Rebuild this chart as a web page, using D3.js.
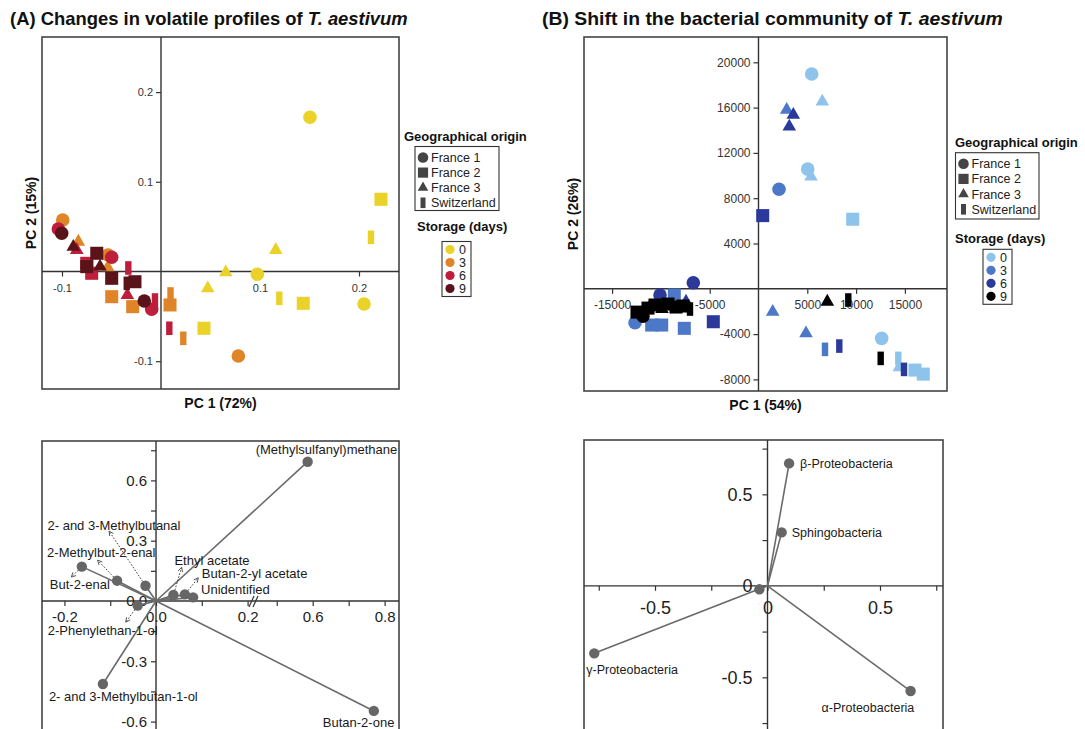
<!DOCTYPE html>
<html><head><meta charset="utf-8">
<script src="https://cdn.jsdelivr.net/npm/d3@7"></script>
<style>
body{margin:0;background:#fff;}
svg{display:block;font-family:"Liberation Sans",Arial,sans-serif;}
</style></head><body><svg id="c" width="1085" height="729"></svg>
<script>
// ---------------- DATA ----------------
const origins = ["France 1","France 2","France 3","Switzerland"];
const storageDays = ["0","3","6","9"];
const volatileColors = ["#EAD228","#E08428","#BE1E3C","#5A1419"];
const bacteriaColors = ["#8EC4EB","#4D78C8","#2B399B","#000000"];

// Panel A scores: [origin, PC1, PC2]
const volatileDay0 = [
 ["France 1",0.1505,0.1719],["France 1",0.0973,-0.0031],["France 1",0.2051,-0.0362],
 ["France 2",0.2222,0.0805],["France 2",0.1437,-0.0355],["France 2",0.0434,-0.0633],
 ["France 3",0.1159,0.0240],["France 3",0.0654,-0.0009],["France 3",0.0472,-0.0187],
 ["Switzerland",0.2121,0.0381],["Switzerland",0.1195,-0.0299]];
const volatileDay3 = [
 ["France 1",-0.0993,0.0574],["France 1",-0.0535,0.0184],["France 1",0.0781,-0.0942],
 ["France 2",-0.0498,-0.0281],["France 2",-0.0286,-0.0392],["France 2",0.0091,-0.0373],
 ["France 3",-0.0835,0.0332],["France 3",-0.0538,0.0047],
 ["Switzerland",0.0096,-0.0251],["Switzerland",0.0225,-0.0745]];
const volatileDay6 = [
 ["France 1",-0.1037,0.0474],["France 1",-0.0498,0.0158],["France 1",-0.0094,-0.0421],
 ["France 2",-0.0700,-0.0020],["France 2",-0.0750,0.0091],
 ["France 3",-0.0851,0.0240],["France 3",-0.0340,-0.0262],
 ["Switzerland",-0.0330,0.0039],["Switzerland",-0.0061,-0.0318],["Switzerland",0.0084,-0.0633]];
const volatileDay9 = [
 ["France 1",-0.1003,0.0426],["France 1",-0.0169,-0.0329],
 ["France 2",-0.0649,0.0203],["France 2",-0.0750,0.0054],["France 2",-0.0498,-0.0076],["France 2",-0.0263,-0.0114],
 ["France 3",-0.0886,0.0276],["France 3",-0.0616,0.0054],
 ["Switzerland",-0.0346,-0.0132]];
const volatileTicksX = [-0.1,0.1,0.2];
const volatileTicksY = [-0.1,0.1,0.2];

// Panel B scores: [origin, PC1, PC2]
const bacteriaDay0 = [
 ["France 1",5451,18966],["France 3",6537,16541],["France 1",5041,10564],["France 3",5379,9910],
 ["France 2",9652,6144],["France 1",12623,-4376],["Switzerland",14324,-6144],["France 3",14426,-6939],
 ["France 2",16035,-7178],["France 2",16885,-7532]];
const bacteriaDay3 = [
 ["France 3",2889,15806],["France 1",2100,8796],["France 3",1455,-2024],["France 3",4867,-3934],
 ["Switzerland",6814,-5348],["France 2",-8627,-548],["France 2",-7603,-3491],["France 2",-9918,-3200],
 ["France 2",-10943,-3200],["France 1",-12654,-2997]];
const bacteriaDay6 = [
 ["France 3",3566,15364],["France 3",3156,14330],["France 2",430,6462],["Switzerland",8279,-5056],
 ["Switzerland",14908,-7116],["France 1",-6680,539],["France 1",-10092,-548],["France 3",-7428,-1140],
 ["France 2",-4631,-2908]];
const bacteriaDay9 = [
 ["France 3",7049,-1140],["Switzerland",9201,-990],["Switzerland",12520,-6144],
 ["France 2",-12449,-2058],["France 1",-11834,-2412],["France 2",-11322,-1705],["France 2",-10605,-1432],
 ["France 3",-9887,-1786],["France 2",-9273,-1344],["France 2",-8453,-1609],["France 2",-7736,-1521],
 ["Switzerland",-7018,-1786]];
const bacteriaTicksX = [-15000,-10000,-5000,5000,10000,15000];
const bacteriaTicksY = [-8000,-4000,4000,8000,12000,16000,20000];

// Loadings
const volatileNames = ["(Methylsulfanyl)methane","Butan-2-one","2- and 3-Methylbutan-1-ol","2-Phenylethan-1-ol",
 "But-2-enal","2-Methylbut-2-enal","2- and 3-Methylbutanal","Ethyl acetate","Butan-2-yl acetate","Unidentified"];
const volatileLoadPC1 = [0.586,0.770,-0.116,-0.040,-0.162,-0.085,-0.023,0.038,0.063,0.081];
const volatileLoadPC2 = [0.693,-0.547,-0.413,-0.023,0.171,0.101,0.076,0.030,0.033,0.018];
const volatileLoadTicksX = [-0.2,0.0,0.2,0.6,0.8];
const volatileLoadMinorX = [-0.1,0.1,0.5,0.7];
const volatileLoadTicksY = [-0.6,-0.3,0.0,0.3,0.6];
const volatileLoadMinorY = [-0.45,-0.15,0.15,0.45,0.75];

const bacteriaNames = ["β-Proteobacteria","Sphingobacteria","γ-Proteobacteria","α-Proteobacteria",""];
const bacteriaLoadPC1 = [0.096,0.063,-0.770,0.636,-0.036];
const bacteriaLoadPC2 = [0.669,0.292,-0.369,-0.575,-0.019];
const bacteriaLoadTicks = [-0.5,0,0.5];
const bacteriaLoadMinor = [-0.75,-0.25,0.25,0.75];

// ---------------- LAYOUT (label offsets in px, not data) ----------------
const volLabelOff = [[-52,-8],[-51,16],[-54,17],[-90,29],[-32,22],[-70,-24],[-98,-56],[1,-30],[17,-16],[8,-3]];
const volArrowEnd = [null,null,null,[-11.5,16],[-10,10],[-19,-20],[-36,-54],[8,-27],[13,-16],null];
const bacLabelOff = [[11,0],[10,0],[-8,16],[-89,17],[0,0]];

// ---------------- DRAW ----------------
const svg = d3.select("#c");
const FF = '"Liberation Sans", Arial, sans-serif';

function shape(origin, k){
  k = k || 1;
  if(origin==="France 1") return d3.symbol(d3.symbolCircle,145*k*k)();
  if(origin==="France 2") return d3.symbol(d3.symbolSquare,170*k*k)();
  if(origin==="France 3") return d3.symbol(d3.symbolTriangle,80*k*k)();
  const w=3.2*k,h=6.8*k; return `M${-w},${-h}h${2*w}v${2*h}h${-2*w}Z`;
}

function title(x,y,parts,len){
  const t = svg.append("text").attr("x",0).attr("y",0).attr("font-size",18).attr("font-weight","bold").attr("fill","#111");
  parts.forEach(p=>t.append("tspan").attr("font-style",p[1]?"italic":null).text(p[0]));
  const w = t.node().getBBox().width;
  t.attr("transform",`translate(${x},${y}) scale(${len/w},1)`);
}
title(10,25,[["(A) Changes in volatile profiles of ",0],["T. aestivum",1]],398);
title(542,25,[["(B) Shift in the bacterial community of ",0],["T. aestivum",1]],461);

function styleAxis(g,fs,col){
  g.attr("font-family",FF).attr("font-size",fs);
  g.select(".domain").remove();
  g.selectAll("line").attr("stroke","#333").attr("stroke-width",1.2);
  g.selectAll("text").attr("fill",col||"#333");
}

function scatterPanel(c){
  const g = svg.append("g");
  g.append("rect").attr("x",c.L).attr("y",c.T).attr("width",c.R-c.L).attr("height",c.B-c.T)
    .attr("fill","none").attr("stroke","#444").attr("stroke-width",1.6);
  g.append("line").attr("x1",c.x(0)).attr("x2",c.x(0)).attr("y1",c.T).attr("y2",c.B).attr("stroke","#333").attr("stroke-width",1.4);
  g.append("line").attr("x1",c.L).attr("x2",c.R).attr("y1",c.y(0)).attr("y2",c.y(0)).attr("stroke","#333").attr("stroke-width",1.4);
  const ax = g.append("g").attr("transform",`translate(0,${c.y(0)})`)
    .call(d3.axisBottom(c.x).tickValues(c.xt).tickSize(5).tickPadding(c.xpad).tickFormat(c.fmt));
  styleAxis(ax,c.fs);
  const ay = g.append("g").attr("transform",`translate(${c.x(0)},0)`)
    .call(d3.axisLeft(c.y).tickValues(c.yt).tickSize(5).tickPadding(3).tickFormat(c.fmt));
  styleAxis(ay,c.fs);
  c.series.forEach((s,i)=>{
    g.append("g").selectAll("path").data(s).enter().append("path")
      .attr("d",d=>shape(d[0]))
      .attr("transform",d=>`translate(${c.x(d[1])},${c.y(d[2])})`)
      .attr("fill",c.colors[i]);
  });
  g.append("text").attr("x",(c.L+c.R)/2).attr("y",c.B+19).attr("text-anchor","middle")
    .attr("font-size",14).attr("font-weight","bold").attr("fill","#111").text(c.xlab);
  g.append("text").attr("transform",`translate(${c.L-6},${(c.T+c.B)/2}) rotate(-90)`).attr("text-anchor","middle")
    .attr("font-size",14).attr("font-weight","bold").attr("fill","#111").text(c.ylab);
}

const xA = d3.scaleLinear().domain([-0.1202,0.2404]).range([42,399]);
const yA = d3.scaleLinear().domain([-0.131,0.2614]).range([389,37]);
scatterPanel({L:42,R:399,T:37,B:389,x:xA,y:yA,xt:volatileTicksX,yt:volatileTicksY,fmt:d=>d.toFixed(1),
  fs:11,xpad:8,series:[volatileDay0,volatileDay3,volatileDay6,volatileDay9],colors:volatileColors,
  xlab:"PC 1 (72%)",ylab:"PC 2 (15%)"});

const xB = d3.scaleLinear().domain([-17879,19314]).range([584,947]);
const yB = d3.scaleLinear().domain([-9024,22234]).range([391,37]);
scatterPanel({L:584,R:947,T:37,B:391,x:xB,y:yB,xt:bacteriaTicksX,yt:bacteriaTicksY,fmt:d=>String(d),
  fs:12,xpad:7,series:[bacteriaDay0,bacteriaDay3,bacteriaDay6,bacteriaDay9],colors:bacteriaColors,
  xlab:"PC 1 (54%)",ylab:"PC 2 (26%)"});

function legend(c){
  const g = svg.append("g");
  g.append("text").attr("x",c.tx).attr("y",c.ty).attr("font-size",13).attr("font-weight","bold").attr("fill","#111").text("Geographical origin");
  g.append("rect").attr("x",c.bx).attr("y",c.by).attr("width",c.bw).attr("height",c.bh).attr("fill","#fff").attr("stroke","#333").attr("stroke-width",1.1);
  origins.forEach((o,i)=>{
    const yy = c.by+11+i*c.step;
    g.append("path").attr("d",shape(o,0.78)).attr("transform",`translate(${c.bx+8},${yy})`).attr("fill","#444");
    g.append("text").attr("x",c.bx+16).attr("y",yy).attr("dy","0.36em").attr("font-size",12.5).attr("fill","#222").text(o);
  });
  g.append("text").attr("x",c.sx).attr("y",c.sy).attr("font-size",13).attr("font-weight","bold").attr("fill","#111").text("Storage (days)");
  g.append("rect").attr("x",c.cx).attr("y",c.cy).attr("width",29).attr("height",55).attr("fill","#fff").attr("stroke","#333").attr("stroke-width",1.1);
  storageDays.forEach((d,i)=>{
    const yy = c.cy+8+i*13;
    g.append("circle").attr("cx",c.cx+8).attr("cy",yy).attr("r",4.6).attr("fill",c.colors[i]);
    g.append("text").attr("x",c.cx+17).attr("y",yy).attr("dy","0.36em").attr("font-size",12.5).attr("fill","#222").text(d);
  });
}
legend({tx:404,ty:141,bx:415,by:146.5,bw:84,bh:64,step:15.1,sx:417,sy:231,cx:442,cy:241.5,colors:volatileColors});
legend({tx:955,ty:147,bx:955.5,by:152.7,bw:83.5,bh:66.3,step:15.2,sx:955,sy:243,cx:983,cy:249.3,colors:bacteriaColors});

// arrow marker
svg.append("defs").append("marker").attr("id","arr").attr("viewBox","0 0 8 8").attr("refX",6).attr("refY",4)
  .attr("markerWidth",6).attr("markerHeight",6).attr("orient","auto").attr("markerUnits","userSpaceOnUse")
  .append("path").attr("d","M1,1L7,4L1,7").attr("fill","none").attr("stroke","#444").attr("stroke-width",1.1);

function biplot(c){
  const g = svg.append("g");
  g.append("rect").attr("x",c.L).attr("y",c.T).attr("width",c.R-c.L).attr("height",760-c.T)
    .attr("fill","none").attr("stroke","#444").attr("stroke-width",1.6);
  g.append("line").attr("x1",c.x(0)).attr("x2",c.x(0)).attr("y1",c.T).attr("y2",729).attr("stroke","#333").attr("stroke-width",1.4);
  g.append("line").attr("x1",c.L).attr("x2",c.R).attr("y1",c.y(0)).attr("y2",c.y(0)).attr("stroke","#333").attr("stroke-width",1.4);
  const ax = g.append("g").attr("transform",`translate(0,${c.y(0)})`)
    .call(d3.axisBottom(c.x).tickValues(c.xt).tickSize(5).tickPadding(c.xpad).tickFormat(c.fmt));
  styleAxis(ax,c.fs,"#222");
  const axm = g.append("g").attr("transform",`translate(0,${c.y(0)})`)
    .call(d3.axisBottom(c.x).tickValues(c.xm).tickSize(5).tickFormat(""));
  styleAxis(axm,c.fs);
  const ay = g.append("g").attr("transform",`translate(${c.x(0)},0)`)
    .call(d3.axisLeft(c.y).tickValues(c.yt).tickSize(5).tickPadding(c.ypad).tickFormat(c.fmt));
  styleAxis(ay,c.fs,"#222");
  const aym = g.append("g").attr("transform",`translate(${c.x(0)},0)`)
    .call(d3.axisLeft(c.y).tickValues(c.ym).tickSize(5).tickFormat(""));
  styleAxis(aym,c.fs);
  if(c.brk){
    [0,4].forEach(o=>g.append("line").attr("x1",c.brk-4+o).attr("y1",c.y(0)+6).attr("x2",c.brk+1+o).attr("y2",c.y(0)-5)
      .attr("stroke","#333").attr("stroke-width",1.2));
  }
  const idx = d3.range(c.names.length);
  g.selectAll(".ld").data(idx).enter().append("line")
    .attr("x1",c.x(0)).attr("y1",c.y(0)).attr("x2",i=>c.x(c.p1[i])).attr("y2",i=>c.y(c.p2[i]))
    .attr("stroke","#6a6a6a").attr("stroke-width",1.6);
  g.selectAll(".pt").data(idx).enter().append("circle")
    .attr("cx",i=>c.x(c.p1[i])).attr("cy",i=>c.y(c.p2[i])).attr("r",5.2).attr("fill","#666");
  if(c.arrows){
    idx.forEach(i=>{
      const a=c.arrows[i]; if(!a) return;
      const px=c.x(c.p1[i]), py=c.y(c.p2[i]);
      const len=Math.hypot(a[0],a[1]); const ux=a[0]/len, uy=a[1]/len;
      g.append("line").attr("x1",px+ux*5).attr("y1",py+uy*5).attr("x2",px+a[0]).attr("y2",py+a[1])
        .attr("stroke","#444").attr("stroke-width",1).attr("stroke-dasharray","1.6,1.6").attr("marker-end","url(#arr)");
    });
  }
  g.selectAll(".lb").data(idx).enter().append("text")
    .attr("x",i=>c.x(c.p1[i])+c.off[i][0]).attr("y",i=>c.y(c.p2[i])+c.off[i][1])
    .attr("dy",c.ldy).attr("font-size",c.lfs).attr("fill","#1a1a1a").text(i=>c.names[i]);
}

const xBiA = d3.scaleLinear().domain([-0.249,0.2118,0.434,0.84]).range([42,253,253,399]);
const yBiA = d3.scaleLinear().domain([-0.637,0.796]).range([729,441]);
biplot({L:42,R:399,T:441,x:xBiA,y:yBiA,xt:volatileLoadTicksX,xm:volatileLoadMinorX,yt:volatileLoadTicksY,ym:volatileLoadMinorY,
  fmt:d=>d.toFixed(1),fs:15,xpad:5,ypad:4,brk:253,names:volatileNames,p1:volatileLoadPC1,p2:volatileLoadPC2,
  off:volLabelOff,arrows:volArrowEnd,ldy:"0",lfs:13});

const xBiB = d3.scaleLinear().domain([-0.8156,0.78]).range([584,943]);
const yBiB = d3.scaleLinear().domain([-0.7825,0.797]).range([729,440]);
biplot({L:584,R:943,T:440,x:xBiB,y:yBiB,xt:bacteriaLoadTicks,xm:bacteriaLoadMinor,yt:bacteriaLoadTicks,ym:bacteriaLoadMinor,
  fmt:d=>String(d),fs:18,xpad:10,ypad:10,brk:null,names:bacteriaNames,p1:bacteriaLoadPC1,p2:bacteriaLoadPC2,
  off:bacLabelOff,arrows:null,ldy:"0.35em",lfs:12.5});
</script></body></html>
